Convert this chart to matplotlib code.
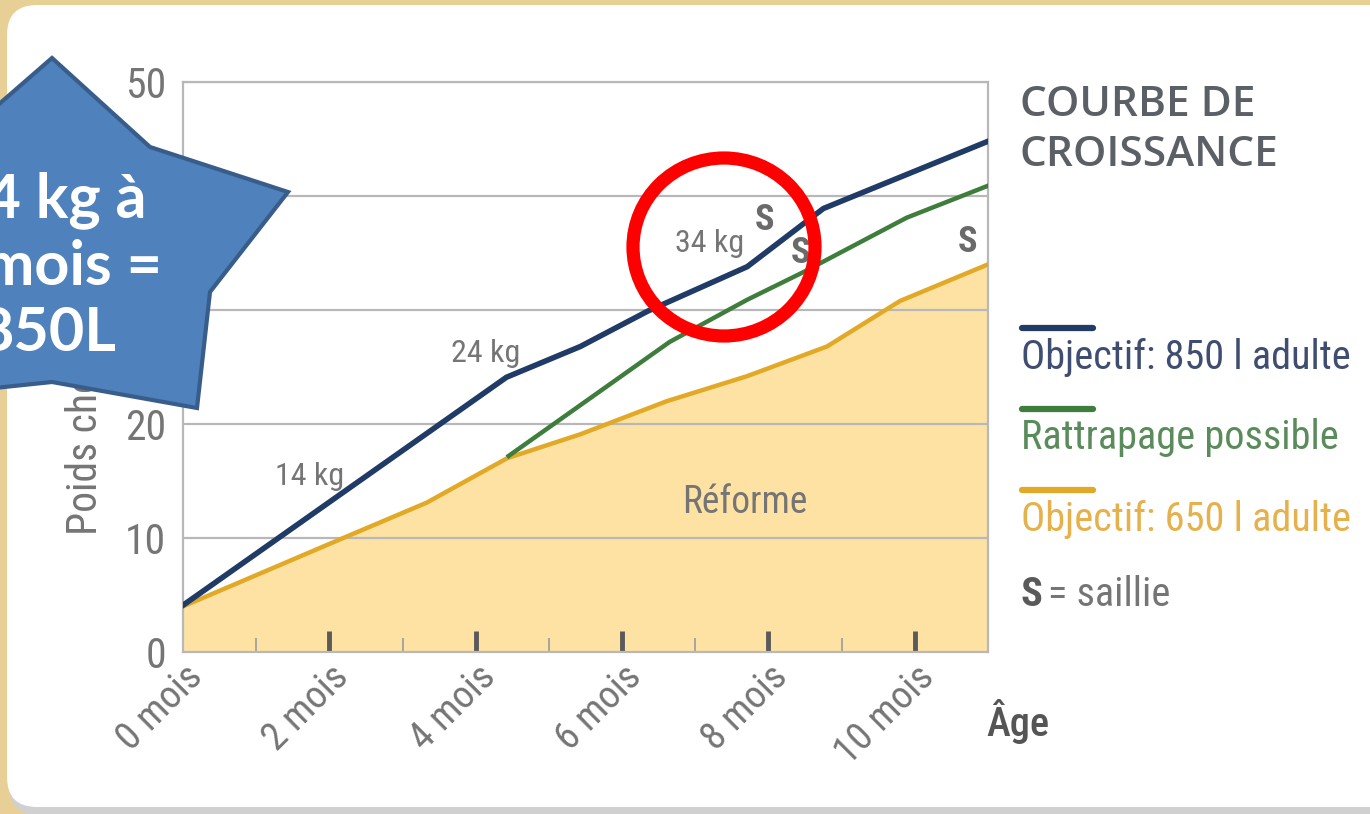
import numpy as np
import matplotlib
matplotlib.use('Agg')
import matplotlib.pyplot as plt
from matplotlib.patches import FancyBboxPatch, Polygon, Ellipse
from matplotlib.transforms import ScaledTranslation

plt.rcParams['font.family'] = ['Roboto Condensed', 'Roboto', 'DejaVu Sans']

# donnees (mois, kg)
mois_850 = [0, 4.42, 5.43, 6.35, 7.71, 8.75, 11]
poids_850 = [4.1, 24.1, 26.8, 29.9, 33.8, 38.9, 44.8]
mois_ratt = [4.45, 6.65, 7.71, 8.47, 9.89, 11]
poids_ratt = [17.2, 27.2, 30.9, 33.3, 38.1, 40.9]
mois_650 = [0, 2.19, 3.33, 4.43, 5.43, 6.61, 7.71, 8.8, 9.8, 11]
poids_650 = [4.0, 10.0, 13.1, 17.0, 19.1, 22.0, 24.2, 26.8, 30.8, 34.0]

xticks_major = [0, 2, 4, 6, 8, 10]
xlabels = ['0 mois', '2 mois', '4 mois', '6 mois', '8 mois', '10 mois']
xticks_minor = [1, 3, 5, 7, 9]
yticks = [0, 10, 20, 30, 40, 50]

# etiquettes sur le graphe
kg_labels = ['14 kg', '24 kg', '34 kg']
kg_x = [1.73, 4.13, 7.2]
kg_y = [15.4, 26.2, 35.8]
s_x = [7.95, 8.44, 10.72]
s_y = [37.9, 35.0, 36.0]

c_850 = '#1f3b66'
c_ratt = '#3f7d3c'
c_650 = '#e2a926'
c_fill = '#fde2a4'
c_txt = '#757575'

W, H = 1370, 814
fig = plt.figure(figsize=(W / 100, H / 100), dpi=100)
fig.patch.set_facecolor('#e7cf96')

# fond: panneau blanc arrondi
bg = fig.add_axes([0, 0, 1, 1], zorder=-5)
bg.set_xlim(0, W)
bg.set_ylim(H, 0)
bg.axis('off')
bg.add_patch(FancyBboxPatch((9, 9), W + 40, H - 8, boxstyle='round,pad=0,rounding_size=30',
                            fc='#d0d0d0', ec='none'))
bg.add_patch(FancyBboxPatch((7, 5), W + 40, H - 12, boxstyle='round,pad=0,rounding_size=30',
                            fc='white', ec='none'))

ax = fig.add_axes([183 / W, 1 - 652 / H, (988 - 183) / W, (652 - 82) / H])
ax.set_facecolor('none')
ax.set_xlim(0, 11)
ax.set_ylim(0, 50)

ax.fill_between(mois_650, poids_650, 0, color=c_fill, lw=0, zorder=1)
for yv in yticks[1:]:
    ax.axhline(yv, color='#b8b8b8', lw=1.6, zorder=2)
ax.plot(mois_650, poids_650, color=c_650, lw=3.2, zorder=3, solid_joinstyle='round')
ax.plot(mois_ratt, poids_ratt, color=c_ratt, lw=3.2, zorder=4, solid_joinstyle='round')
ax.plot(mois_850, poids_850, color=c_850, lw=4, zorder=5, solid_joinstyle='round')

for sp in ax.spines.values():
    sp.set_color('#b8b8b8')
    sp.set_linewidth(1.6)

ax.set_xticks(xticks_major)
ax.set_xticklabels(xlabels, rotation=45, ha='right', va='center', rotation_mode='anchor',
                   fontsize=28, color=c_txt)
ax.set_xticks(xticks_minor, minor=True)
ax.tick_params(axis='x', which='major', direction='in', length=15, width=3.5, color='#5a5a5a',
               pad=14)
ax.tick_params(axis='x', which='minor', direction='in', length=10, width=1.2, color='#9a9a9a')
ax.xaxis.get_major_ticks()[0].tick1line.set_visible(False)
decale = ScaledTranslation(10 / 72, 0, fig.dpi_scale_trans)
for lab in ax.get_xticklabels():
    lab.set_transform(lab.get_transform() + decale)
ax.set_yticks(yticks)
ax.tick_params(axis='y', length=0, pad=12, labelsize=30, labelcolor=c_txt)

fig.text(85 / W, 1 - 535 / H, 'Poids chevrette (kg)', rotation=90, fontsize=30, color=c_txt,
         ha='center', va='bottom')

for lab, xx, yy in zip(kg_labels, kg_x, kg_y):
    ax.text(xx, yy, lab, fontsize=23, color=c_txt, ha='center', va='center', zorder=6)
for xx, yy in zip(s_x, s_y):
    ax.text(xx, yy, 'S', fontsize=26, fontweight='bold', color='#6a6a6a', ha='center',
            va='center', zorder=6)
ax.text(7.68, 13.1, 'Réforme', fontsize=27, color=c_txt, ha='center', va='center', zorder=6)

fig.text(986 / W, 1 - 722 / H, 'Âge', fontsize=29, fontweight='medium', color='#555555',
         ha='left', va='center')

# legende a droite
fig.text(1020 / W, 1 - 105 / H, 'COURBE DE', family=['Open Sans', 'DejaVu Sans'], fontsize=30.5,
         fontweight='semibold', color='#5b5f66', ha='left', va='center')
fig.text(1020 / W, 1 - 155 / H, 'CROISSANCE', family=['Open Sans', 'DejaVu Sans'], fontsize=30.5,
         fontweight='semibold', color='#5b5f66', ha='left', va='center')
leg = [('Objectif: 850 l adulte', c_850, '#3f4e70', 328),
       ('Rattrapage possible', c_ratt, '#5a8b5a', 409),
       ('Objectif: 650 l adulte', c_650, '#e6b14a', 490)]
for txt, lc, tc, ypix in leg:
    bg.plot([1022, 1093], [ypix, ypix], color=lc, lw=4.5, solid_capstyle='round')
    fig.text(1021 / W, 1 - (ypix + 29) / H, txt, fontsize=29, color=tc, ha='left', va='center')
fig.text(1021 / W, 1 - 595 / H, 'S', fontsize=29, fontweight='bold', color='#5a5a5a',
         ha='left', va='center')
fig.text(1048 / W, 1 - 595 / H, '= saillie', fontsize=29, color=c_txt, ha='left', va='center')

# surcouche: etoile et cercle rouge
top = fig.add_axes([0, 0, 1, 1], zorder=10)
top.set_xlim(0, W)
top.set_ylim(H, 0)
top.axis('off')
etoile = [(52, 58), (150, 147), (288, 192), (210, 292), (197, 408), (52, 382),
          (-120, 400), (-80, 290), (-200, 200), (-40, 138)]
top.add_patch(Polygon(etoile, closed=True, fc='#4f81bd', ec='#385d8a', lw=3))
top.text(48, 266, '34 kg à\n8 mois =\n850L', fontsize=44, fontweight='bold', color='white',
         family=['Lato', 'DejaVu Sans'], ha='center', va='center', linespacing=1.22)
top.add_patch(Ellipse((724, 247), 182, 178, fc='none', ec='#fe0000', lw=9.5))

fig.savefig('out.png', dpi=100, facecolor=fig.get_facecolor())
